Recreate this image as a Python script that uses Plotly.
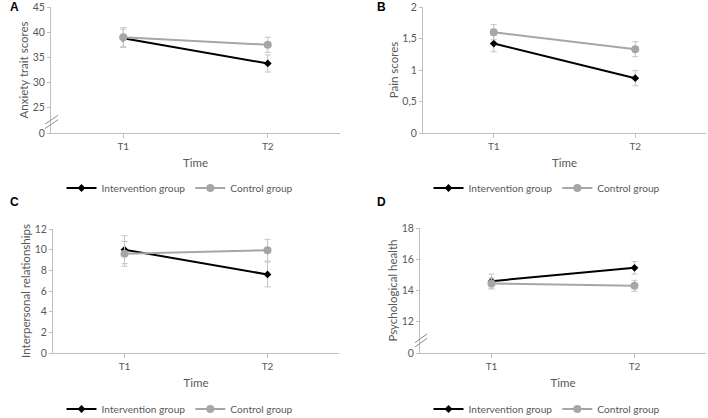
import plotly.graph_objects as go

times = ["T1", "T2"]

# Panel A: Anxiety trait scores
a_int = [38.8, 33.8]
a_int_err = [1.8, 1.7]
a_ctl = [39.0, 37.5]
a_ctl_err = [1.9, 1.5]
a_ticks = [20, 25, 30, 35, 40, 45]
a_ticktext = ["0", "25", "30", "35", "40", "45"]

# Panel B: Pain scores
b_int = [1.42, 0.87]
b_int_err = [0.13, 0.12]
b_ctl = [1.60, 1.33]
b_ctl_err = [0.12, 0.12]
b_ticks = [0, 0.5, 1, 1.5, 2]
b_ticktext = ["0", "0,5", "1", "1,5", "2"]

# Panel C: Interpersonal relationships
c_int = [10.0, 7.6]
c_int_err = [1.35, 1.2]
c_ctl = [9.6, 9.95]
c_ctl_err = [1.2, 1.05]
c_ticks = [0, 2, 4, 6, 8, 10, 12]
c_ticktext = ["0", "2", "4", "6", "8", "10", "12"]

# Panel D: Psychological health
d_int = [14.6, 15.45]
d_int_err = [0.45, 0.4]
d_ctl = [14.45, 14.3]
d_ctl_err = [0.35, 0.35]
d_ticks = [10, 12, 14, 16, 18]
d_ticktext = ["0", "12", "14", "16", "18"]

FONT = "Lato"
INT_COLOR = "black"
CTL_COLOR = "#a6a6a6"
ERR_COLOR = "#c4c4c4"
AXIS_COLOR = "#bfbfbf"
TICK_COLOR = "#595959"

W, H = 708, 418

def px(x):
    return x / W

def py(y):
    return 1 - y / H

panels = [
    dict(key="", leg="legend", vals=(a_int, a_int_err, a_ctl, a_ctl_err),
         ticks=a_ticks, tt=a_ticktext, rng=[20, 45], title="Anxiety trait scores",
         xd=[px(51), px(340)], yd=[py(133), py(7)], letter="A", lx=8, ly=7,
         legx=180, legy=188, brk=22.2, brx=(45, 58)),
    dict(key="2", leg="legend2", vals=(b_int, b_int_err, b_ctl, b_ctl_err),
         ticks=b_ticks, tt=b_ticktext, rng=[0, 2], title="Pain scores",
         xd=[px(423), px(706)], yd=[py(133), py(7)], letter="B", lx=375, ly=7,
         legx=547, legy=188, brk=None),
    dict(key="3", leg="legend3", vals=(c_int, c_int_err, c_ctl, c_ctl_err),
         ticks=c_ticks, tt=c_ticktext, rng=[0, 12], title="Interpersonal relationships",
         xd=[px(53), px(339)], yd=[py(353), py(229)], letter="C", lx=8, ly=202,
         legx=180, legy=409, brk=None),
    dict(key="4", leg="legend4", vals=(d_int, d_int_err, d_ctl, d_ctl_err),
         ticks=d_ticks, tt=d_ticktext, rng=[10, 18], title="Psychological health",
         xd=[px(420), px(706)], yd=[py(353), py(228)], letter="D", lx=375, ly=202,
         legx=547, legy=409, brk=10.8, brx=(415, 427)),
]

fig = go.Figure()
layout = {}
shapes = []
annotations = []

for p in panels:
    k = p["key"]
    iv, ie, cv, ce = p["vals"]
    xa = "x" + k
    ya = "y" + k
    fig.add_trace(go.Scatter(
        x=times, y=iv, xaxis=xa, yaxis=ya, name="Intervention group",
        mode="lines+markers", legend=p["leg"],
        line=dict(color=INT_COLOR, width=2),
        marker=dict(symbol="diamond", size=6, color=INT_COLOR),
        error_y=dict(type="data", array=ie, color=ERR_COLOR, thickness=1, width=3),
    ))
    fig.add_trace(go.Scatter(
        x=times, y=cv, xaxis=xa, yaxis=ya, name="Control group",
        mode="lines+markers", legend=p["leg"],
        line=dict(color=CTL_COLOR, width=2),
        marker=dict(symbol="circle", size=8, color=CTL_COLOR),
        error_y=dict(type="data", array=ce, color=ERR_COLOR, thickness=1, width=3),
    ))
    layout["xaxis" + k] = dict(
        domain=p["xd"], anchor=ya, type="category", range=[-0.5, 1.5],
        showline=True, linecolor=AXIS_COLOR, linewidth=1,
        ticks="outside", ticklen=4, tickcolor=AXIS_COLOR,
        showgrid=False, zeroline=False, automargin=False,
        tickfont=dict(family=FONT, size=10, color=TICK_COLOR),
        title=dict(text="Time", font=dict(family=FONT, size=11.5, color=TICK_COLOR), standoff=7),
    )
    layout["yaxis" + k] = dict(
        domain=p["yd"], anchor=xa, range=p["rng"],
        tickmode="array", tickvals=p["ticks"], ticktext=p["tt"],
        showline=True, linecolor=AXIS_COLOR, linewidth=1,
        ticks="outside", ticklen=3, tickcolor=AXIS_COLOR,
        showgrid=False, zeroline=False, automargin=False,
        tickfont=dict(family=FONT, size=10.5, color=TICK_COLOR),
        title=dict(text=p["title"], font=dict(family=FONT, size=11.5, color=TICK_COLOR), standoff=1),
    )
    layout[p["leg"]] = dict(
        orientation="h", x=px(p["legx"]), y=py(p["legy"]),
        xanchor="center", yanchor="middle", itemwidth=30,
        font=dict(family=FONT, size=10.2, color=TICK_COLOR),
        bgcolor="rgba(0,0,0,0)", tracegroupgap=0,
    )
    annotations.append(dict(
        x=px(p["lx"]), y=py(p["ly"]), xref="paper", yref="paper",
        text="<b>" + p["letter"] + "</b>", showarrow=False,
        xanchor="left", yanchor="middle",
        font=dict(family="Liberation Sans", size=12, color="black"),
    ))
    if p["brk"] is not None:
        x0, x1 = p["brx"]
        span = p["rng"][1] - p["rng"][0]
        dy = span * 0.035
        for off in (-dy / 2, dy / 2):
            shapes.append(dict(
                type="line", xref="paper", yref=ya,
                x0=px(x0), x1=px(x1), y0=p["brk"] + off - dy, y1=p["brk"] + off + dy,
                line=dict(color="#8c8c8c", width=1),
            ))

fig.update_layout(
    width=W, height=H,
    margin=dict(l=0, r=0, t=0, b=0, autoexpand=False),
    paper_bgcolor="white", plot_bgcolor="white",
    shapes=shapes, annotations=annotations,
    **layout,
)

fig.write_html("out.html", config={"displayModeBar": False},
               post_script="document.body.style.margin='0px';")
